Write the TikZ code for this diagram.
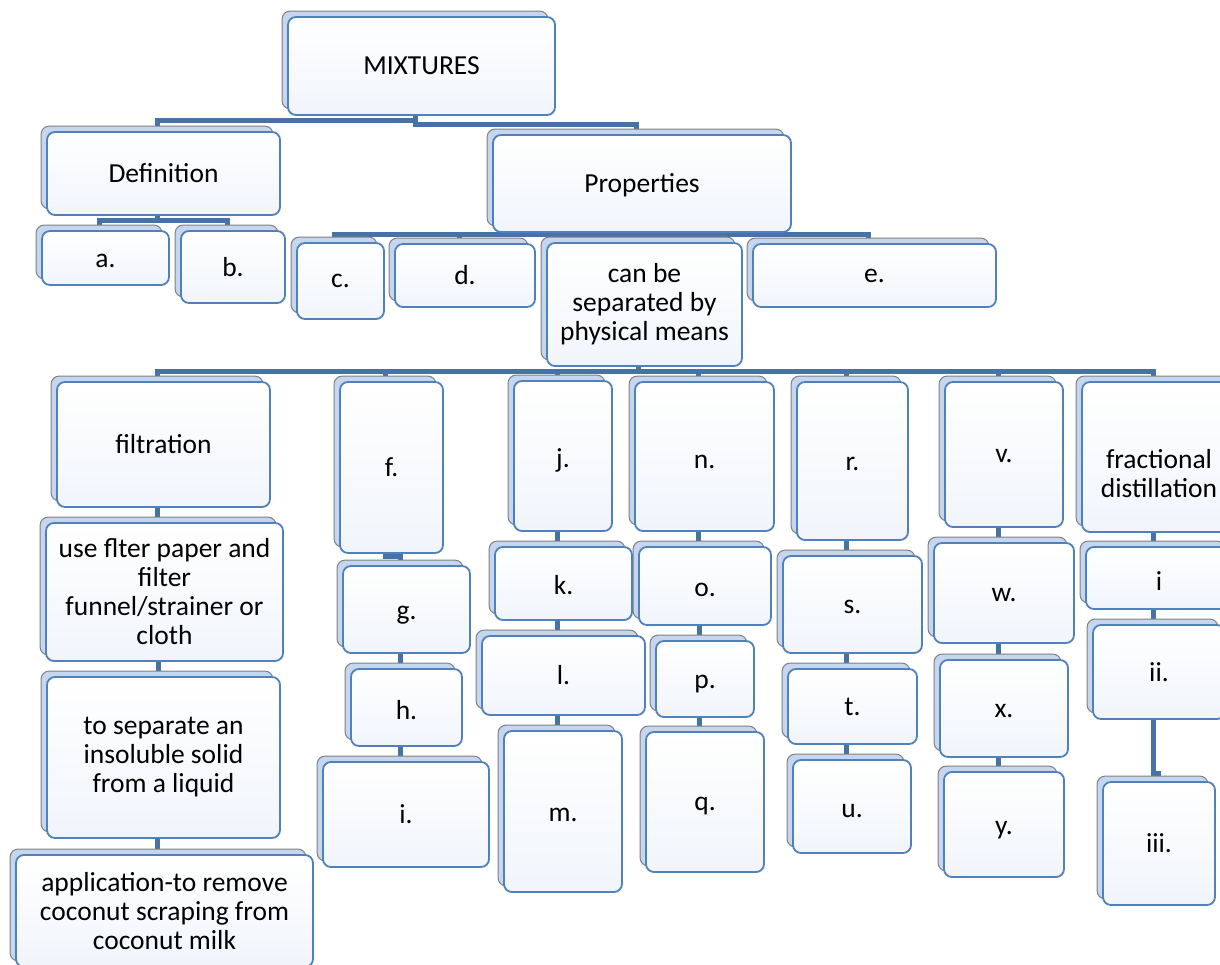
\documentclass[tikz,border=0pt]{standalone}
\usepackage{fontspec}
\setmainfont{Carlito}
\usetikzlibrary{backgrounds}
\definecolor{bxborder}{RGB}{79,129,189}
\definecolor{bxbottom}{RGB}{241,245,251}
\definecolor{backfill}{RGB}{197,214,238}
\definecolor{backdraw}{RGB}{128,128,128}
\definecolor{connclr}{RGB}{70,114,166}
\pgfdeclarelayer{bg}
\pgfdeclarelayer{conn}
\pgfdeclarelayer{shad}
\pgfsetlayers{bg,conn,shad,main}
\tikzset{
  bx/.style={draw=bxborder, line width=1.8pt, rounded corners=8pt,
    top color=white, bottom color=bxbottom, inner sep=0pt, align=center,
    font=\fontsize{27.5}{29}\selectfont, text=black},
  backbox/.style={draw=backdraw, line width=1pt, rounded corners=8pt, fill=backfill},
  conn/.style={draw=connclr, line width=5pt}
}
% \bx[text lowered by, pt]{name}{x1}{y1}{x2}{y2}{text}
\newcommand{\bx}[7][0]{%
  \pgfmathsetmacro{\mybw}{#5-#3}\pgfmathsetmacro{\mybh}{#6-#4}%
  \pgfmathsetmacro{\mycx}{(#3+#5)/2}\pgfmathsetmacro{\mycy}{-(#4+#6)/2}%
  \node[bx, minimum width=\mybw pt, minimum height=\mybh pt] (#2) at (\mycx pt,\mycy pt) {#7};
  \begin{pgfonlayer}{shad}
  \draw[backbox] ([shift={(-5pt,5pt)}]#2.north west) rectangle ([shift={(-8pt,7pt)}]#2.south east);
  \end{pgfonlayer}%
}
\newcommand{\lw}[2]{\raisebox{-#1pt}[\height][\depth]{#2}}
\newcommand{\vc}[2]{%
  \begin{pgfonlayer}{conn}
  \draw[conn] ([xshift=-6pt]#1.south) -- ([xshift=-6pt]#1.south |- #2.north);
  \end{pgfonlayer}%
}
\begin{document}
\begin{tikzpicture}
\useasboundingbox (0pt,0pt) rectangle (1220pt,-965pt);
\begin{pgfonlayer}{bg}
\fill[white] (0pt,0pt) rectangle (1220pt,-965pt);
\end{pgfonlayer}
\clip (0pt,0pt) rectangle (1220pt,-965pt);

\bx{mix}{288}{17}{555}{115}{MIXTURES}
\bx{defn}{47}{132}{280}{215}{Definition}
\bx{prop}{493}{135}{791}{232}{\lw{2}{Properties}}
\bx{a}{42}{231}{169}{285}{\lw{3}{a.}}
\bx{b}{181}{231}{285}{303}{b.}
\bx{c}{297}{243}{384}{319}{c.}
\bx{d}{395}{244}{535}{307}{d.}
\bx{sep}{547}{243}{742}{366}{can be\\separated by\\physical means}
\bx{e}{753}{244}{996}{307}{e.}

\bx{filt}{57}{382}{270}{507}{filtration}
\bx{use}{46}{523}{283}{661}{use flter paper and\\filter\\funnel/strainer or\\cloth}
\bx{tosep}{47}{677}{280}{838}{to separate an\\insoluble solid\\from a liquid}
\bx{app}{16}{855}{313}{967}{application-to remove\\coconut scraping from\\coconut milk}

\bx{f}{340}{382}{443}{553}{f.}
\bx{g}{343}{566}{470}{653}{\lw{6}{g.}}
\bx{h}{351}{669}{462}{746}{\lw{3}{h.}}
\bx{ii}{323}{762}{489}{867}{i.}

\bx{j}{514}{381}{612}{531}{\lw{4}{j.}}
\bx{k}{495}{547}{632}{620}{\lw{2}{k.}}
\bx{l}{482}{636}{645}{715}{l.}
\bx{m}{504}{731}{622}{892}{\lw{3}{m.}}

\bx{n}{635}{382}{774}{531}{\lw{5}{n.}}
\bx{o}{639}{547}{771}{625}{\lw{4}{o.}}
\bx{p}{656}{641}{754}{717}{\lw{5}{p.}}
\bx{q}{646}{732}{764}{872}{\lw{4}{q.}}

\bx{r}{797}{382}{908}{540}{\lw{3}{r.}}
\bx{s}{783}{556}{922}{653}{\lw{2}{s.}}
\bx{t}{788}{669}{917}{744}{t.}
\bx{u}{793}{760}{911}{853}{\lw{5}{u.}}

\bx{v}{945}{382}{1063}{527}{\lw{2}{v.}}
\bx{w}{934}{543}{1074}{643}{\lw{2}{w.}}
\bx{x}{940}{660}{1068}{757}{\lw{3}{x.}}
\bx{y}{944}{772}{1064}{877}{\lw{6}{y.}}

\bx{frac}{1082}{382}{1236}{532}{\lw{20}{\begin{tabular}{@{}c@{}}fractional\\distillation\end{tabular}}}
\bx{fi}{1086}{547}{1232}{609}{\lw{3}{i}}
\bx{fii}{1093}{625}{1225}{719}{ii.}
\bx{fiii}{1103}{782}{1215}{905}{iii.}

\begin{pgfonlayer}{conn}
\draw[conn] ([xshift=-6pt]mix.south) -- ++(0,-5pt) -| ([xshift=-6pt]defn.north);
\draw[conn] ([xshift=-6pt]mix.south) -- ++(0,-9pt) -| ([xshift=-6pt]prop.north);
\foreach \nd in {a,b}
  \draw[conn] ([xshift=-6pt]defn.south) -- ++(0,-5pt) -| ([xshift=-6pt]\nd.north);
\foreach \nd in {c,d,sep,e}
  \draw[conn] ([xshift=-6pt]prop.south) -- ++(0,-2pt) -| ([xshift=-6pt]\nd.north);
\foreach \nd in {filt,f,j,n,r,v,frac}
  \draw[conn] ([xshift=-6pt]sep.south) -- ++(0,-5pt) -| ([xshift=-6pt]\nd.north);
\draw[conn] ([xshift=-6pt]f.south) -- ++(0,-3pt) -| ([xshift=-6pt]g.north);
\draw[conn] ([xshift=-6pt]fii.south) -- ++(0,-54pt) -- ++(5pt,0) -- ([xshift=-1pt]fiii.north);
\end{pgfonlayer}
\vc{filt}{use}\vc{use}{tosep}\vc{tosep}{app}
\vc{g}{h}\vc{h}{ii}
\vc{j}{k}\vc{k}{l}\vc{l}{m}
\vc{n}{o}\vc{o}{p}\vc{p}{q}
\vc{r}{s}\vc{s}{t}\vc{t}{u}
\vc{v}{w}\vc{w}{x}\vc{x}{y}
\vc{frac}{fi}\vc{fi}{fii}
\end{tikzpicture}
\end{document}
